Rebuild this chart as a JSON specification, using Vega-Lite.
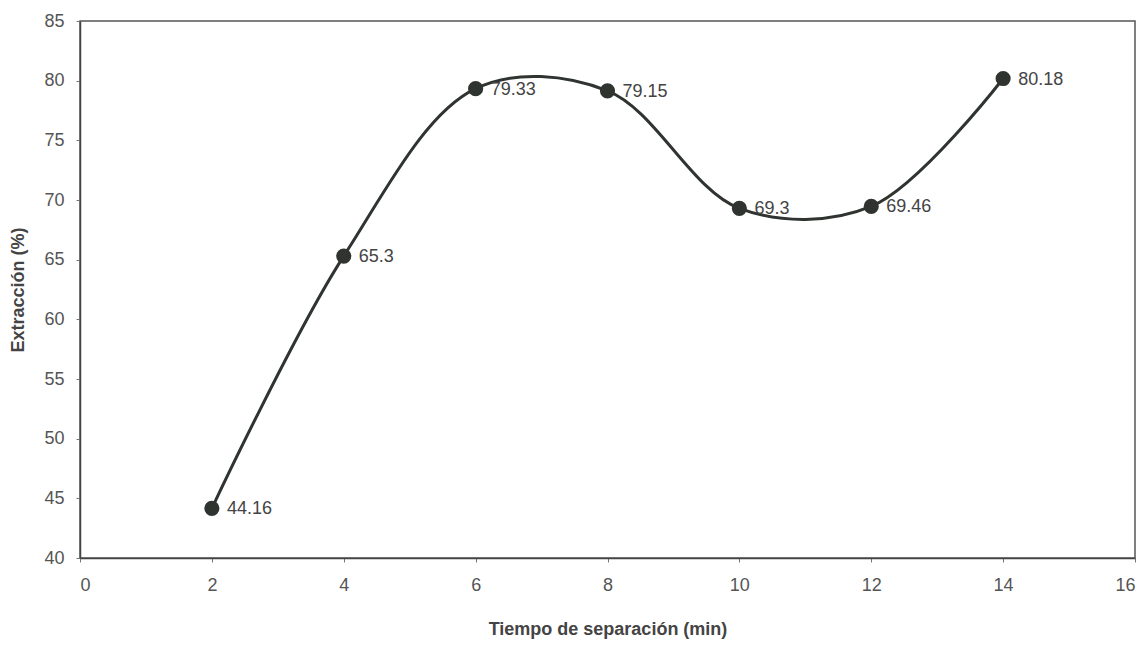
{
  "$schema": "https://vega.github.io/schema/vega-lite/v6.json",
  "width": 1055,
  "height": 537,
  "autosize": {"type": "none"},
  "padding": {"left": 80, "top": 21, "right": 12, "bottom": 90},
  "background": "white",
  "config": {
    "font": "Liberation Sans",
    "view": {"stroke": "#555", "strokeWidth": 1.5},
    "axis": {
      "grid": false,
      "domainColor": "#444",
      "domainWidth": 1.5,
      "tickColor": "#777",
      "tickSize": 4,
      "labelColor": "#555",
      "labelFontSize": 18,
      "titleColor": "#444",
      "titleFontSize": 18,
      "titleFontWeight": "bold"
    }
  },
  "data": {
    "values": [
      {"tiempo": 2, "extraccion": 44.16},
      {"tiempo": 4, "extraccion": 65.3},
      {"tiempo": 6, "extraccion": 79.33},
      {"tiempo": 8, "extraccion": 79.15},
      {"tiempo": 10, "extraccion": 69.3},
      {"tiempo": 12, "extraccion": 69.46},
      {"tiempo": 14, "extraccion": 80.18}
    ]
  },
  "encoding": {
    "x": {
      "field": "tiempo",
      "type": "quantitative",
      "scale": {"domain": [0, 16], "nice": false},
      "axis": {"values": [0, 2, 4, 6, 8, 10, 12, 14, 16], "labelPadding": 14, "title": "Tiempo de separación (min)", "titlePadding": 26}
    },
    "y": {
      "field": "extraccion",
      "type": "quantitative",
      "scale": {"domain": [40, 85], "nice": false, "zero": false},
      "axis": {"values": [40, 45, 50, 55, 60, 65, 70, 75, 80, 85], "labelPadding": 12, "title": "Extracción  (%)", "titlePadding": 16}
    }
  },
  "layer": [
    {
      "mark": {"type": "line", "interpolate": "catmull-rom", "color": "#2f3430", "strokeWidth": 3}
    },
    {
      "mark": {"type": "point", "filled": true, "shape": "circle", "size": 230, "color": "#2f3430", "opacity": 1}
    },
    {
      "mark": {"type": "text", "align": "left", "baseline": "middle", "dx": 15, "dy": 1, "fontSize": 18, "color": "#444"},
      "encoding": {"text": {"field": "extraccion", "type": "quantitative"}}
    }
  ]
}
